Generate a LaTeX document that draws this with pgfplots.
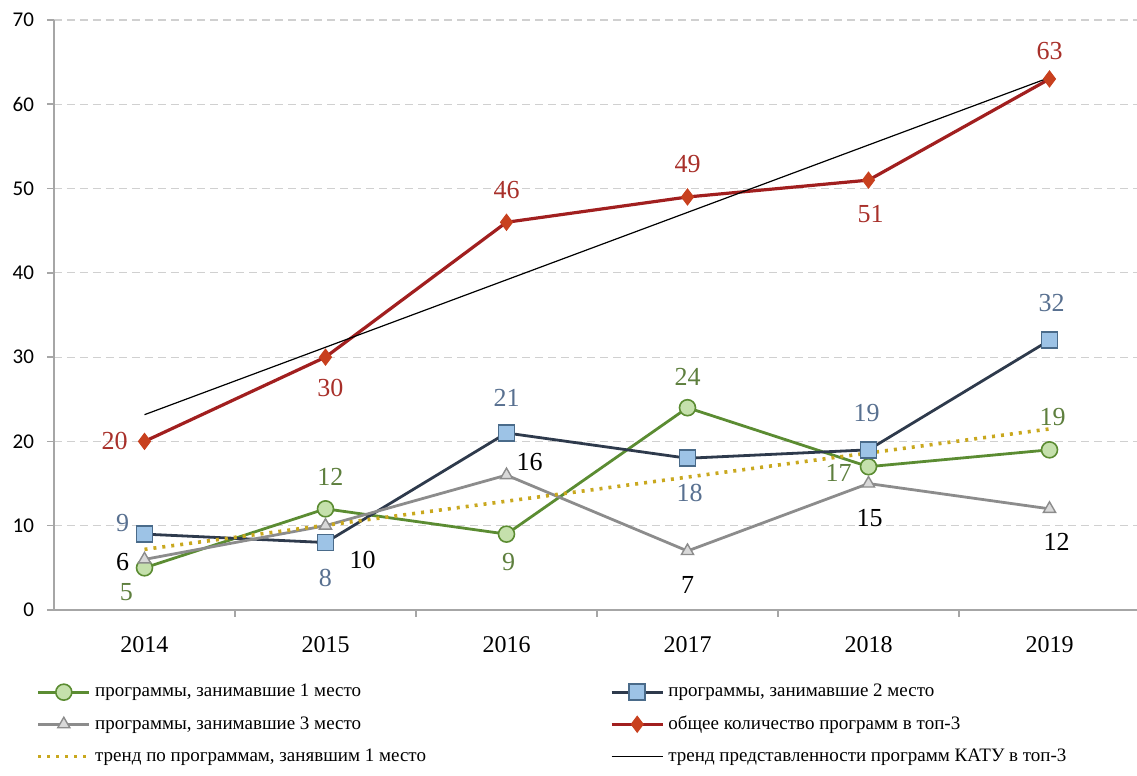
\documentclass[border=0pt]{standalone}
\usepackage{fontspec}
\setmainfont{Liberation Serif}
\newfontfamily\calibri{Carlito}
\usepackage{pgfplots}
\pgfplotsset{compat=1.18}

\definecolor{axisgray}{HTML}{A6A6A6}
\definecolor{gridgray}{HTML}{D0D0D0}
\definecolor{c1line}{HTML}{5B8C32}
\definecolor{c1fill}{HTML}{C5E0AC}
\definecolor{c1lbl}{HTML}{5E7F3E}
\definecolor{c2line}{HTML}{2E3A4C}
\definecolor{c2fill}{HTML}{9DC3E6}
\definecolor{c2edge}{HTML}{4A6B8A}
\definecolor{c2lbl}{HTML}{587090}
\definecolor{c3line}{HTML}{8C8C8C}
\definecolor{c3fill}{HTML}{D9D9D9}
\definecolor{totline}{HTML}{A11F1F}
\definecolor{totfill}{HTML}{C8401E}
\definecolor{totlbl}{HTML}{A8302A}
\definecolor{trendgold}{HTML}{C9A81E}

% label helper: colour, x, y, dx, dy, text
\newcommand{\lbl}[6]{\node[text=#1, font=\fontsize{13}{15}\selectfont, inner sep=0pt]
  at (axis cs:#2,#3) [xshift=#4pt, yshift=#5pt] {#6};}

\begin{document}
\begin{tikzpicture}
\begin{axis}[
  name=ax, scale only axis, width=543pt, height=295pt,
  xmin=-0.5, xmax=5.5, ymin=0, ymax=70,
  axis x line*=bottom, axis y line*=left,
  axis line style={draw=axisgray, line width=0.8pt},
  xtick={0,...,5}, xticklabels={2014,2015,2016,2017,2018,2019},
  minor xtick={0.5,1.5,...,4.5},
  ytick={0,10,...,70},
  tick align=outside, major tick length=3.5pt, minor tick length=3.5pt,
  major x tick style={draw=none},
  minor x tick style={draw=axisgray, line width=0.8pt},
  major y tick style={draw=axisgray, line width=0.8pt},
  ymajorgrids, grid style={gridgray, dash pattern=on 4pt off 2.5pt, line width=0.6pt},
  xticklabel style={font=\fontsize{12}{14}\selectfont, yshift=-6pt},
  yticklabel style={font=\calibri\fontsize{10.5}{12}\selectfont, xshift=-3pt},
  /pgf/number format/assume math mode=true,
  legend columns=2,
  legend cell align=left,
  legend style={at={(axis description cs:0,0)}, anchor=north west,
    xshift=-12pt, yshift=-33pt, draw=none, fill=none,
    font=\fontsize{9.5}{11}\selectfont, row sep=4pt,
    /tikz/every even column/.append style={column sep=90pt}},
  legend image code/.code={\draw[mark repeat=2, mark phase=2]
    plot coordinates {(0cm,0cm) (0.45cm,0cm) (0.9cm,0cm)};},
]
% программы, занимавшие 1 место
\addplot[c1line, line width=1.4pt, mark=*, mark size=4pt,
  mark options={fill=c1fill, draw=c1line, line width=0.8pt}]
  coordinates {(0,5) (1,12) (2,9) (3,24) (4,17) (5,19)};
\addlegendentry{программы, занимавшие 1 место}
% программы, занимавшие 2 место
\addplot[c2line, line width=1.4pt, mark=square*, mark size=4pt,
  mark options={fill=c2fill, draw=c2edge, line width=0.8pt}]
  coordinates {(0,9) (1,8) (2,21) (3,18) (4,19) (5,32)};
\addlegendentry{программы, занимавшие 2 место}
% программы, занимавшие 3 место
\addplot[c3line, line width=1.4pt, mark=triangle*, mark size=3.5pt,
  mark options={fill=c3fill, draw=c3line, line width=0.7pt}]
  coordinates {(0,6) (1,10) (2,16) (3,7) (4,15) (5,12)};
\addlegendentry{программы, занимавшие 3 место}
% общее количество программ в топ-3
\addplot[totline, line width=1.6pt, mark=diamond*, mark size=4pt,
  mark options={fill=totfill, draw=totfill, line width=0.5pt}]
  coordinates {(0,20) (1,30) (2,46) (3,49) (4,51) (5,63)};
\addlegendentry{общее количество программ в топ-3}
% тренд по 1 месту (линейный)
\addplot[trendgold, line width=1.8pt, dash pattern=on 1.5pt off 3pt, no marks]
  coordinates {(0,7.19) (5,21.48)};
\addlegendentry{тренд по программам, занявшим 1 место}
% тренд общего количества
\addplot[black, line width=0.6pt, no marks]
  coordinates {(0,23.17) (5,63.17)};
\addlegendentry{тренд представленности программ КАТУ в топ-3}

\lbl{totlbl}{0}{20}{-15}{0}{20}
\lbl{totlbl}{1}{30}{2.5}{-15.5}{30}
\lbl{totlbl}{2}{46}{0}{16}{46}
\lbl{totlbl}{3}{49}{0}{16.5}{49}
\lbl{totlbl}{4}{51}{1}{-17}{51}
\lbl{totlbl}{5}{63}{0}{14}{63}

\lbl{c2lbl}{0}{9}{-11}{5.5}{9}
\lbl{c2lbl}{1}{8}{0}{-17.5}{8}
\lbl{c2lbl}{2}{21}{0}{17.5}{21}
\lbl{c2lbl}{3}{18}{1}{-17.5}{18}
\lbl{c2lbl}{4}{19}{-1}{18.5}{19}
\lbl{c2lbl}{5}{32}{1}{18.5}{32}

\lbl{c1lbl}{0}{5}{-9}{-12}{5}
\lbl{c1lbl}{1}{12}{2.5}{16}{12}
\lbl{c1lbl}{2}{9}{1}{-14}{9}
\lbl{c1lbl}{3}{24}{0}{15.5}{24}
\lbl{c1lbl}{4}{17}{-15}{-3}{17}
\lbl{c1lbl}{5}{19}{1.5}{16.5}{19}

\lbl{black}{0}{6}{-11}{-1.5}{6}
\lbl{black}{1}{10}{18.5}{-17}{10}
\lbl{black}{2}{16}{11.5}{6.5}{16}
\lbl{black}{3}{7}{0}{-17}{7}
\lbl{black}{4}{15}{0.5}{-17}{15}
\lbl{black}{5}{12}{3.5}{-16.5}{12}
\end{axis}
\pgfresetboundingbox
\path ([xshift=-27pt,yshift=-83pt]ax.south west) rectangle ([xshift=-1.5pt,yshift=10pt]ax.north east);
\end{tikzpicture}
\end{document}
